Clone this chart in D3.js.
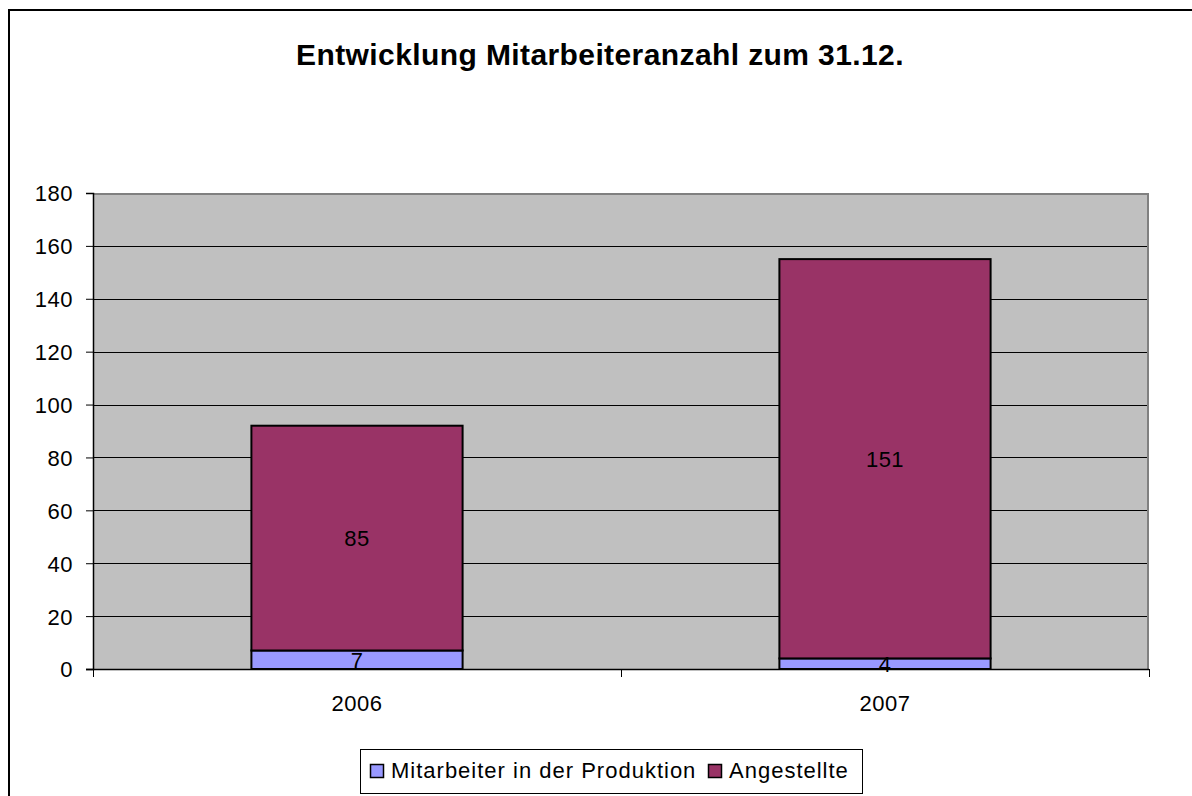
<!DOCTYPE html>
<html>
<head>
<meta charset="utf-8">
<script src="https://cdn.jsdelivr.net/npm/d3@7"></script>
<style>
  body { margin: 0; background: #fff; }
  svg { display: block; font-family: "Liberation Sans", Arial, sans-serif; }
</style>
</head>
<body>
<svg id="chart" width="1192" height="796"></svg>
<script>
// chart data
var years = ["2006", "2007"];
var produktion = [7, 4];
var angestellte = [85, 151];
var seriesNames = ["Mitarbeiter in der Produktion", "Angestellte"];
var seriesColors = ["#9999ff", "#993366"];
var yTicks = [0, 20, 40, 60, 80, 100, 120, 140, 160, 180];

var svg = d3.select("#chart");

// outer frame (runs off the right and bottom edge)
svg.append("rect")
  .attr("x", 9).attr("y", 10)
  .attr("width", 1300).attr("height", 900)
  .attr("fill", "#fff").attr("stroke", "#000").attr("stroke-width", 2);

svg.append("text")
  .attr("x", 600).attr("y", 65)
  .attr("text-anchor", "middle")
  .style("font-size", "30px").style("font-weight", "bold")
  .style("letter-spacing", "0.4px")
  .text("Entwicklung Mitarbeiteranzahl zum 31.12.");

var plotL = 93, plotR = 1149, plotT = 193, plotB = 669;

var x = d3.scaleBand().domain(years).range([plotL, plotR]);
var y = d3.scaleLinear().domain([0, 180]).range([plotB, plotT]);

// plot area
svg.append("rect")
  .attr("x", plotL).attr("y", plotT)
  .attr("width", plotR - plotL).attr("height", plotB - plotT)
  .attr("fill", "#c0c0c0");

// gridlines
svg.append("g").selectAll("line")
  .data(yTicks.slice(1, -1))
  .join("line")
  .attr("x1", plotL).attr("x2", plotR)
  .attr("y1", function (d) { return Math.round(y(d)) + 0.5; })
  .attr("y2", function (d) { return Math.round(y(d)) + 0.5; })
  .attr("stroke", "#000").attr("stroke-width", 1);

// plot border top/right in grey
svg.append("path")
  .attr("d", "M" + plotL + "," + (plotT + 1) + "H" + (plotR - 1) + "V" + plotB)
  .attr("fill", "none").attr("stroke", "#808080").attr("stroke-width", 2);

// stacked bars
var segs = [];
years.forEach(function (yr, i) {
  segs.push({ year: yr, lo: 0, hi: produktion[i], v: produktion[i], c: seriesColors[0] });
  segs.push({ year: yr, lo: produktion[i], hi: produktion[i] + angestellte[i], v: angestellte[i], c: seriesColors[1] });
});
var barW = x.bandwidth() * 0.4;

svg.append("g").selectAll("rect")
  .data(segs)
  .join("rect")
  .attr("x", function (d) { return x(d.year) + (x.bandwidth() - barW) / 2; })
  .attr("y", function (d) { return y(d.hi); })
  .attr("width", barW)
  .attr("height", function (d) { return y(d.lo) - y(d.hi); })
  .attr("fill", function (d) { return d.c; })
  .attr("stroke", "#000").attr("stroke-width", 2);

svg.append("g").selectAll("text")
  .data(segs)
  .join("text")
  .attr("x", function (d) { return x(d.year) + x.bandwidth() / 2; })
  .attr("y", function (d) { return y((d.lo + d.hi) / 2) + 8; })
  .attr("text-anchor", "middle")
  .style("font-size", "22px").style("letter-spacing", "0.5px")
  .text(function (d) { return d.v; });

// y axis
var yAxis = svg.append("g")
  .attr("transform", "translate(" + plotL + ",0)")
  .call(d3.axisLeft(y).tickValues(yTicks).tickSize(7).tickPadding(13));
yAxis.select(".domain").attr("stroke", "#000").attr("stroke-width", 1.5);
yAxis.selectAll(".tick line").attr("stroke", "#000");
yAxis.selectAll(".tick text")
  .attr("fill", "#000")
  .attr("dy", "0.36em")
  .style("font-size", "22px").style("letter-spacing", "0.5px")
  .style("font-family", "'Liberation Sans', Arial, sans-serif");

// x axis
var xAxis = svg.append("g")
  .attr("transform", "translate(0," + plotB + ")");
xAxis.append("line")
  .attr("x1", plotL - 7).attr("x2", plotR)
  .attr("y1", 0.5).attr("y2", 0.5)
  .attr("stroke", "#000").attr("stroke-width", 1.5);
xAxis.selectAll("line.tk")
  .data([plotL, x("2007"), plotR])
  .join("line").attr("class", "tk")
  .attr("x1", function (d) { return d + 0.5; }).attr("x2", function (d) { return d + 0.5; })
  .attr("y1", 0).attr("y2", 8)
  .attr("stroke", "#000");
xAxis.selectAll("text")
  .data(years)
  .join("text")
  .attr("x", function (d) { return x(d) + x.bandwidth() / 2; })
  .attr("y", 42)
  .attr("text-anchor", "middle")
  .style("font-size", "22px").style("letter-spacing", "0.5px")
  .text(function (d) { return d; });

// legend
var lg = svg.append("g");
lg.append("rect")
  .attr("x", 360.5).attr("y", 749.5)
  .attr("width", 502).attr("height", 44)
  .attr("fill", "#fff").attr("stroke", "#000");
var items = [{ x: 370, i: 0 }, { x: 708, i: 1 }];
items.forEach(function (it) {
  lg.append("rect")
    .attr("x", it.x + 0.5).attr("y", 764.5)
    .attr("width", 13).attr("height", 13)
    .attr("fill", seriesColors[it.i]).attr("stroke", "#000").attr("stroke-width", 1.5);
  lg.append("text")
    .attr("x", it.x + 21).attr("y", 778)
    .style("font-size", "22px").style("letter-spacing", "1px")
    .text(seriesNames[it.i]);
});
</script>
</body>
</html>
